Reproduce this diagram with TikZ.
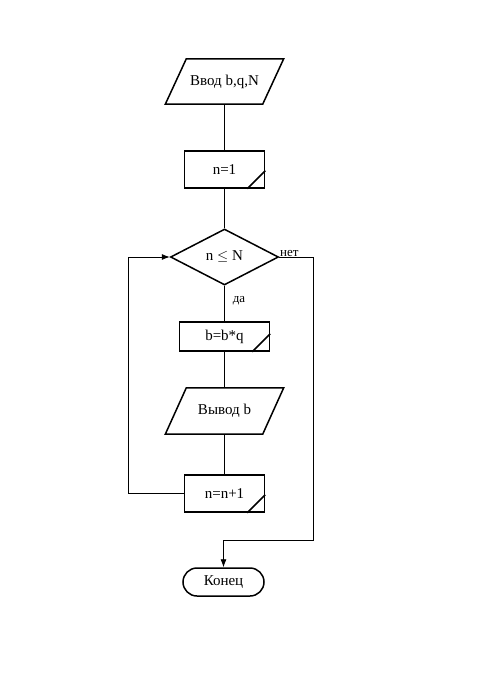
\documentclass[tikz,border=0pt]{standalone}
\usepackage{fontspec}
\setmainfont{Liberation Serif}
\usetikzlibrary{shapes.geometric,shapes.misc,arrows.meta}
\begin{document}
\begin{tikzpicture}[x=1pt,y=-1pt,
  blk/.style={draw,line width=1.5pt,font=\fontsize{15}{17}\selectfont},
  io/.style={font=\fontsize{15}{17}\selectfont,rectangle,minimum width=118pt,inner sep=0pt,
    append after command={\pgfextra{\draw[line width=1.5pt,line join=miter]
      ([xshift=21pt]\tikzlastnode.north west) -- (\tikzlastnode.north east) --
      ([xshift=-21pt]\tikzlastnode.south east) -- (\tikzlastnode.south west) -- cycle;}}},
  proc/.style={blk,rectangle,inner sep=0pt},
  conn/.style={line width=0.8pt},
  lbl/.style={font=\fontsize{13}{15}\selectfont,inner sep=0pt}]
\useasboundingbox (0,0) rectangle (477,680);
\node[io,minimum height=45pt] (in) at (224.5,81.5) {Ввод b,q,N};
\node[proc,minimum width=80pt,minimum height=37pt] (n1) at (224.5,169.5) {n=1};
\node[blk,diamond,aspect=1.93,minimum width=108pt,minimum height=56pt,inner sep=0pt] (cond) at (224.5,257) {n $\leq$ N};
\node[proc,minimum width=90pt,minimum height=29pt] (bq) at (224.5,336.5) {b=b*q};
\node[io,minimum height=46pt] (out) at (224.5,411) {Вывод b};
\node[proc,minimum width=80pt,minimum height=37pt] (inc) at (224.5,493.5) {n=n+1};
\node[blk,rounded rectangle,minimum width=81pt,minimum height=28pt,inner sep=0pt] (end) at (223.5,582) {Конец};
% corner marks
\foreach \n in {n1,bq,inc}{
  \draw[line width=1.5pt] ([xshift=-18pt]\n.south east) -- ([yshift=18pt]\n.south east);
}
\draw[conn] (in.south) -- (n1.north);
\draw[conn] (n1.south) -- (cond.north);
\draw[conn] (cond.south) -- (bq.north);
\draw[conn] (bq.south) -- (out.north);
\draw[conn] (out.south) -- (inc.north);
\coordinate (lp) at (128,493.5);
\draw[conn,-{Latex[length=8pt,width=6pt]}] (inc.west) -- (lp) |- (cond.west);
\coordinate (rp) at (313,540);
\draw[conn,-{Latex[length=8pt,width=6pt]}] (cond.east) -| (rp) -| (end.north);
\node[lbl,anchor=south west] (no) at (280,257) {нет};
\node[lbl] (yes) at (239,301) {да};
\end{tikzpicture}
\end{document}
